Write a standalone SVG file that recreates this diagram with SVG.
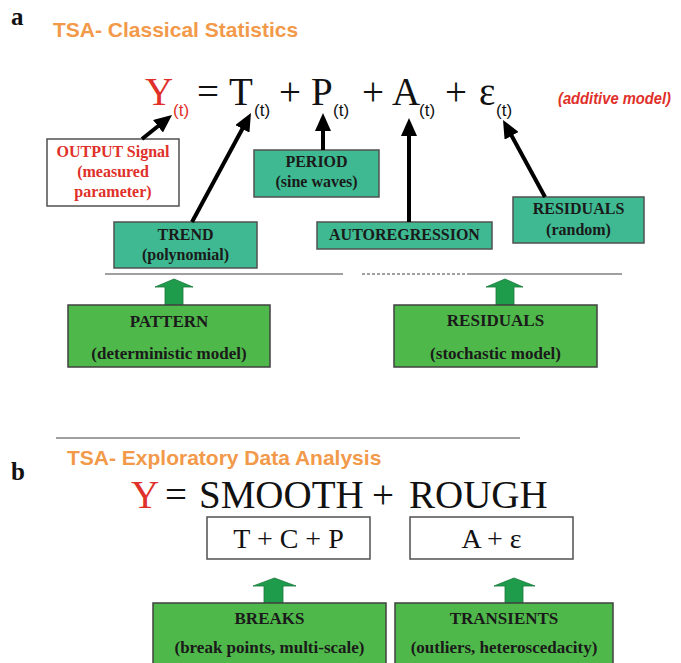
<svg xmlns="http://www.w3.org/2000/svg" width="681" height="663" viewBox="0 0 681 663">
  <style>
    .panel { font-family: "Liberation Serif", "Times New Roman", serif; font-weight: bold; font-size: 25px; fill: #111; }
    .title { font-family: "Liberation Sans", Arial, sans-serif; font-weight: bold; font-size: 21px; fill: #f2994a; }
    .eq { font-family: "Liberation Serif", "Times New Roman", serif; font-size: 39px; fill: #111; }
    .eqb { font-family: "Liberation Serif", "Times New Roman", serif; font-size: 39px; fill: #111; }
    .sub { font-family: "Liberation Sans", Arial, sans-serif; font-size: 17px; fill: #111; }
    .red { fill: #e0302a; }
    .note { font-family: "Liberation Sans", Arial, sans-serif; font-weight: bold; font-style: italic; font-size: 16px; fill: #e0302a; }
    .lbl { font-family: "Liberation Serif", "Times New Roman", serif; font-weight: bold; font-size: 16px; fill: #1a1a1a; text-anchor: middle; }
    .lbl-red { fill: #e0302a; }
    .big { font-size: 17px; }
    .teal { fill: #3eb991; stroke: #505050; stroke-width: 1.5; }
    .green { fill: #4fb84a; stroke: #404040; stroke-width: 1.5; }
    .white { fill: #ffffff; stroke: #505050; stroke-width: 1.5; }
    .sep { stroke: #808080; stroke-width: 1.5; fill: none; }
    .dash { stroke-dasharray: 3 2; }
    .arrow { stroke: #000; stroke-width: 4; fill: none; marker-end: url(#head); }
    .block { fill: #1f9b4c; stroke: #177a3b; stroke-width: 0.8; }
    .box-text { font-family: "Liberation Serif", "Times New Roman", serif; font-size: 28px; fill: #111; text-anchor: middle; }
  </style>
  <defs>
    <marker id="head" markerUnits="userSpaceOnUse" markerWidth="18" markerHeight="16" refX="8" refY="8" orient="auto">
      <path d="M0,0 L18,8 L0,16 z" fill="#000"/>
    </marker>
  </defs>

  <!-- panel a: classical decomposition -->
  <text class="panel" x="11" y="25">a</text>
  <text class="title" x="53" y="37">TSA- Classical Statistics</text>

  <g id="equation-a">
    <text class="eq red" x="145" y="105">Y</text>
    <text class="sub red" x="173" y="116">(t)</text>
    <text class="eq" x="197" y="105">=</text>
    <text class="eq" x="229" y="105">T</text>
    <text class="sub" x="254" y="116">(t)</text>
    <text class="eq" x="279" y="105">+</text>
    <text class="eq" x="311" y="105">P</text>
    <text class="sub" x="333" y="116">(t)</text>
    <text class="eq" x="362" y="105">+</text>
    <text class="eq" x="392" y="105">A</text>
    <text class="sub" x="419" y="116">(t)</text>
    <text class="eq" x="445" y="105">+</text>
    <text class="eq" x="479" y="105">ε</text>
    <text class="sub" x="496" y="116">(t)</text>
    <text class="note" x="558" y="104" textLength="113" lengthAdjust="spacingAndGlyphs">(additive model)</text>
  </g>

  <g id="output-signal">
    <rect class="white" x="47" y="139" width="132" height="67"/>
    <text class="lbl lbl-red" x="113" y="157">OUTPUT Signal</text>
    <text class="lbl lbl-red" x="113" y="177">(measured</text>
    <text class="lbl lbl-red" x="113" y="197">parameter)</text>
  </g>

  <g id="trend">
    <rect class="teal" x="114" y="222" width="143" height="46"/>
    <text class="lbl" x="185.5" y="240">TREND</text>
    <text class="lbl" x="185.5" y="260">(polynomial)</text>
  </g>

  <g id="period">
    <rect class="teal" x="254" y="150" width="125" height="47"/>
    <text class="lbl" x="316.5" y="167">PERIOD</text>
    <text class="lbl" x="316.5" y="187">(sine waves)</text>
  </g>

  <g id="autoregression">
    <rect class="teal" x="317" y="222" width="175" height="27"/>
    <text class="lbl" x="404.5" y="240">AUTOREGRESSION</text>
  </g>

  <g id="residuals-random">
    <rect class="teal" x="513" y="197" width="131" height="46"/>
    <text class="lbl" x="578.5" y="214">RESIDUALS</text>
    <text class="lbl" x="578.5" y="235">(random)</text>
  </g>

  <g id="connectors">
    <path class="arrow" d="M142,139 L164.2,121.3"/>
    <path class="arrow" d="M192,222 L246.2,121.8"/>
    <path class="arrow" d="M323,150 L323,123"/>
    <path class="arrow" d="M409,222 L409,128"/>
    <path class="arrow" d="M545,197 L507.8,128.8"/>

    <!-- separators under the component boxes -->
    <path class="sep" d="M105,274 L343,274"/>
    <path class="sep dash" d="M362,274 L467,274"/>
    <path class="sep" d="M467,274 L622,274"/>

    <!-- block arrows -->
    <polygon class="block" points="165,305 183,305 183,287 193,287 174,279 155,287 165,287"/>
    <polygon class="block" points="496,305 514,305 514,287 523,287 505,279 486,287 496,287"/>
    <polygon class="block" points="264,603 283,603 283,586 296,586 274.5,578 253,586 264,586"/>
    <polygon class="block" points="505,603 523,603 523,586 535,586 514,578 494,586 505,586"/>

    <!-- panel divider -->
    <path class="sep" d="M56,438 L520,438"/>
  </g>

  <g id="pattern">
    <rect class="green" x="68" y="305" width="202" height="62"/>
    <text class="lbl big" x="169" y="327">PATTERN</text>
    <text class="lbl big" x="169" y="359">(deterministic model)</text>
  </g>

  <g id="residuals">
    <rect class="green" x="394" y="305" width="203" height="62"/>
    <text class="lbl big" x="495.5" y="326">RESIDUALS</text>
    <text class="lbl big" x="495.5" y="359">(stochastic model)</text>
  </g>

  <!-- panel b: exploratory data analysis -->
  <text class="panel" x="11" y="480">b</text>
  <text class="title" x="67" y="465">TSA- Exploratory Data Analysis</text>

  <g id="equation-b">
    <text class="eqb red" x="131" y="508">Y</text>
    <text class="eqb" x="165" y="508">=</text>
    <text class="eqb" x="199" y="508">SMOOTH</text>
    <text class="eqb" x="372" y="508">+</text>
    <text class="eqb" x="409" y="508">ROUGH</text>
  </g>

  <g id="smooth">
    <rect class="white" x="207" y="517" width="163" height="42"/>
    <text class="box-text" x="288.5" y="548">T + C + P</text>
  </g>

  <g id="rough">
    <rect class="white" x="410" y="517" width="163" height="42"/>
    <text class="box-text" x="491.5" y="548">A + ε</text>
  </g>

  <g id="breaks">
    <rect class="green" x="153" y="603" width="233" height="70"/>
    <text class="lbl big" x="269.5" y="624">BREAKS</text>
    <text class="lbl big" x="269.5" y="653">(break points, multi-scale)</text>
  </g>

  <g id="transients">
    <rect class="green" x="395" y="603" width="218" height="70"/>
    <text class="lbl big" x="504" y="624">TRANSIENTS</text>
    <text class="lbl big" x="504" y="653">(outliers, heteroscedacity)</text>
  </g>
</svg>
